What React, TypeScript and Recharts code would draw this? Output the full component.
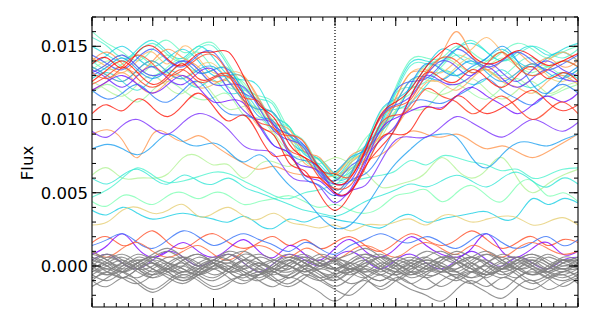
import React from 'react';
import { LineChart, Line, XAxis, YAxis, ReferenceLine } from 'recharts';

// x positions (phase units), 33 samples
const X = [-4, -3.75, -3.5, -3.25, -3, -2.75, -2.5, -2.25, -2, -1.75, -1.5, -1.25, -1, -0.75, -0.5, -0.25, 0, 0.25, 0.5, 0.75, 1, 1.25, 1.5, 1.75, 2, 2.25, 2.5, 2.75, 3, 3.25, 3.5, 3.75, 4];

// tick positions
const X_MINOR = [-4, -3.8, -3.6, -3.4, -3.2, -3, -2.8, -2.6, -2.4, -2.2, -2, -1.8, -1.6, -1.4, -1.2, -1, -0.8, -0.6, -0.4, -0.2, 0, 0.2, 0.4, 0.6, 0.8, 1, 1.2, 1.4, 1.6, 1.8, 2, 2.2, 2.4, 2.6, 2.8, 3, 3.2, 3.4, 3.6, 3.8, 4];
const X_MAJOR = [-4, -3, -2, -1, 0, 1, 2, 3, 4];
// flux in units of 1e-4
const Y_DOMAIN = [-28, 170];
const Y_LABELS = [0, 50, 100, 150];
const Y_MINOR = [-20, -10, 0, 10, 20, 30, 40, 50, 60, 70, 80, 90, 100, 110, 120, 130, 140, 150, 160, 170];
const Y_MAJOR = [0, 50, 100, 150];

// transiting (dipping) light curves, flux x 1e4
const L1 = [138,142,135,146,150,141,137,145,146,146,129,110,101,83,74,67,56,60,79,103,112,121,136,146,152,144,138,141,147,143,137,140,145];
const L2 = [104,110,106,114,108,102,110,118,109,99,103,89,75,75,62,60,50,51,67,87,90,93,108,107,116,110,104,108,114,120,112,106,110];
const L3 = [126,134,140,132,124,130,138,128,129,131,116,96,89,70,65,49,38,49,68,81,94,116,132,128,126,134,128,122,130,136,128,132,126];
const L4 = [132,128,136,144,138,130,134,142,144,131,115,112,94,89,84,66,63,61,80,101,109,114,131,142,140,132,138,146,136,130,134,140,136];
const L5 = [140,146,138,132,140,148,142,136,126,129,129,114,98,93,78,74,63,75,80,93,115,132,133,144,160,144,134,140,146,138,142,136,140];
const L6 = [120,126,132,124,118,126,130,122,124,126,111,95,92,87,70,65,52,62,79,88,95,111,125,125,120,128,134,126,122,118,126,130,124];
const L7 = [136,130,126,134,140,132,128,136,138,126,113,107,104,87,80,65,62,72,77,90,111,127,127,127,136,142,134,128,132,138,130,126,132];
const L8 = [126,120,116,124,130,122,118,126,117,107,109,107,91,79,78,66,64,73,77,87,106,121,120,117,122,128,120,114,120,126,118,122,126];
const L9 = [132,138,144,136,130,136,142,134,124,128,125,109,96,95,78,73,60,70,87,96,105,123,137,135,130,134,140,146,138,132,136,130,134];
const L10 = [118,124,118,112,120,126,120,114,115,117,103,101,89,75,74,62,58,67,71,89,106,107,108,119,124,118,114,122,128,120,116,120,124];
const L11 = [156,150,142,146,152,144,140,148,150,136,121,114,109,89,81,63,59,70,78,94,118,137,138,138,148,154,146,140,144,150,146,142,148];
const L12 = [140,134,138,144,136,132,140,146,134,122,120,114,98,90,72,66,56,66,74,96,118,122,126,136,144,140,134,130,138,142,136,140,136];
const L13 = [138,144,150,142,136,142,148,140,130,130,128,110,104,86,78,72,60,62,82,106,114,122,136,148,144,138,142,148,140,136,142,146,140];
const L14 = [128,132,126,120,128,134,128,122,127,118,118,105,93,90,76,73,63,64,81,102,107,112,123,133,130,124,128,134,126,122,128,132,128];
const L15 = [130,136,142,134,128,134,140,132,134,134,118,102,98,78,72,66,52,62,82,92,104,124,138,134,130,136,142,150,140,124,118,128,136];
const L16 = [144,138,134,142,148,140,136,144,146,132,118,112,96,90,82,66,58,68,76,98,120,126,128,138,148,142,136,140,146,140,134,138,144];
const L17 = [120,114,118,124,116,112,120,126,114,104,103,97,82,77,60,55,48,58,63,76,95,111,113,111,116,122,128,120,114,110,118,124,118];
const L18 = [134,128,122,130,136,128,124,132,134,120,106,100,96,76,68,64,50,52,72,86,96,116,130,126,124,130,136,128,122,128,134,128,126];
const L19 = [92,88,96,100,94,90,98,104,101,93,82,79,76,62,58,54,43,51,55,71,86,88,88,95,102,98,92,88,94,100,96,92,98];
const L20 = [132,138,144,136,130,134,140,134,124,124,122,108,92,86,80,62,56,58,78,102,110,116,130,140,136,130,138,132,126,134,140,134,130];
const L21 = [150,144,140,148,154,146,142,150,142,130,127,122,103,95,77,69,61,72,80,96,120,139,140,140,148,152,146,140,146,150,144,148,152];
const L22 = [160,152,146,140,148,154,146,150,152,138,123,116,111,93,85,67,63,74,82,98,122,141,142,142,150,146,140,146,152,148,142,146,150];
const L23 = [142,136,132,140,146,138,150,142,132,132,130,112,96,90,84,66,58,70,78,90,114,132,134,132,140,148,156,146,138,134,140,146,140];
const L24 = [124,130,136,128,122,128,134,126,128,129,113,98,94,79,74,60,53,55,74,97,103,108,121,116,112,104,110,116,108,100,106,112,104];
const L25 = [136,130,126,134,140,132,128,134,136,126,113,107,104,89,82,67,64,74,79,92,111,127,129,127,134,140,132,126,132,138,132,128,134];
const L26 = [134,140,136,130,138,144,138,132,134,135,119,104,100,95,78,72,61,63,82,105,113,118,133,142,138,132,136,142,136,130,136,140,136];
const L27 = [80,83,80,76,82,90,85,82,84,78,71,76,67,55,46,34,26,28,40,56,70,80,88,90,88,74,67,76,84,84,82,86,90];
const L28 = [120,126,130,124,118,124,130,122,112,113,111,96,82,77,62,58,49,51,70,93,101,106,109,108,116,122,116,110,104,110,116,112,118];

// fainter, mostly flat light curves
const M1 = [90,93,86,74,90,90,85,89,83,76,70,66,68,64,62,60,62,66,72,76,84,92,90,88,90,85,80,82,78,74,78,84,90];
const M2 = [62,67,60,60,60,63,74,75,69,69,60,69,71,68,72,70,74,70,64,54,55,58,64,74,66,60,66,74,60,50,56,62,66];
const M3 = [47,52,60,67,62,57,58,61,64,63,58,53,48,46,50,52,56,58,60,62,65,72,69,75,74,71,69,65,66,60,62,66,67];
const M4 = [44,41,48,46,42,48,50,46,50,48,42,44,46,48,44,40,42,38,36,40,48,50,52,44,50,55,48,44,55,58,48,50,44];
const M5 = [38,35,40,36,32,34,36,34,32,30,34,28,26,32,30,34,32,30,28,26,32,35,30,32,34,36,37,32,34,46,42,46,43];
const M6 = [28,30,38,40,36,38,42,34,36,40,34,32,36,30,28,26,28,24,28,28,30,32,28,34,34,30,32,34,33,28,30,33,28];
const M7 = [60,56,62,66,60,56,62,58,56,60,54,50,46,42,38,36,34,38,44,48,52,56,54,58,62,58,54,60,64,58,54,60,56];
const M8 = [16,20,14,18,24,16,12,18,22,16,12,16,20,14,18,12,16,20,14,10,16,22,18,14,18,24,18,12,16,20,14,18,16];
const M9 = [8,14,22,12,6,10,16,10,6,12,18,10,6,14,8,4,12,18,10,6,12,20,14,8,6,12,22,10,6,12,16,8,10];
const M10 = [14,18,22,16,12,18,24,20,14,18,22,18,14,10,16,12,8,14,18,22,18,16,20,16,12,18,22,16,12,16,20,14,18];
const M11 = [4,8,2,-2,4,10,6,0,4,8,2,-4,2,8,4,0,6,10,4,-2,4,8,2,-2,4,10,4,0,6,2,-2,4,6];
const M12 = [10,6,12,16,10,6,10,14,8,4,10,14,10,6,12,8,4,10,14,10,6,12,16,12,8,14,10,6,12,16,12,8,10];

// background (gray) curves
const G1 = [2,-4,-8,-2,4,0,-6,-2,4,8,2,-4,0,6,2,-4,-10,-4,2,6,0,-6,-2,4,8,2,-4,-8,-2,4,0,-4,2];
const G2 = [-2,4,8,2,-4,2,6,0,-6,-2,4,0,-4,2,-2,-8,-4,2,8,4,-2,2,6,0,-4,2,8,4,-2,-6,0,4,-2];
const G3 = [6,2,-4,0,6,10,4,-2,2,8,4,-2,-6,0,6,2,-2,4,8,2,-4,0,6,10,4,-2,2,8,4,-2,-4,2,6];
const G4 = [-6,-10,-4,2,-2,-8,-12,-6,0,-4,-10,-6,0,4,-2,-8,-14,-8,-2,-6,-10,-4,2,-2,-8,-12,-6,0,-4,-10,-6,-2,-8];
const G5 = [0,6,2,-4,-8,-2,4,8,2,-4,0,6,2,-2,4,0,2,-4,-8,-2,4,0,-4,2,6,0,-6,-2,4,8,2,-2,0];
const G6 = [-10,-14,-8,-12,-18,-12,-6,-10,-16,-12,-6,-10,-14,-8,-12,-18,-24,-16,-10,-14,-8,-12,-16,-10,-6,-12,-18,-22,-14,-10,-16,-12,-8];
const G7 = [4,0,-4,2,6,2,-2,-6,0,4,-2,-6,-2,4,8,2,-2,2,-2,-6,0,4,0,-4,2,6,2,-4,0,4,-2,2,4];
const G8 = [-4,2,6,0,-6,-2,2,-4,-8,-2,4,2,-4,-8,-2,2,-2,-6,0,6,2,-4,-8,-4,2,6,0,-6,-2,2,-4,-8,-4];
const G9 = [8,4,-2,2,8,12,6,0,4,10,6,0,4,8,2,-2,4,8,12,6,0,4,10,6,2,6,10,4,-2,2,8,4,6];
const G10 = [-8,-4,2,-2,-8,-4,0,-6,-10,-4,0,-4,-10,-6,0,-4,-8,-2,-6,-10,-4,2,-2,-6,-10,-4,0,-4,-8,-2,-6,-10,-6];
const G11 = [2,8,4,-2,0,6,2,-4,0,6,10,4,-2,2,6,0,4,-2,0,6,2,-4,0,6,4,-2,-6,0,6,2,-2,4,2];
const G12 = [-2,-6,0,4,-2,-6,-10,-4,2,-2,-6,0,4,0,-6,-10,-6,0,4,-2,-6,-2,4,0,-4,-8,-4,2,-2,-6,-2,4,0];
const G13 = [-14,-8,-4,-10,-16,-10,-4,-8,-14,-10,-6,-2,-8,-12,-6,-10,-16,-20,-12,-6,-10,-16,-20,-24,-16,-10,-14,-8,-12,-16,-10,-6,-12];
const G14 = [6,0,-4,2,6,2,-4,0,4,0,-4,-8,-2,4,0,6,2,-2,4,8,2,-2,2,-2,-6,0,4,-2,2,6,2,-2,2];
const G15 = [0,-6,-2,4,2,-2,4,8,2,-4,-2,2,-4,-6,0,4,-2,-4,2,-2,-6,0,4,2,-4,-8,-2,4,6,0,-4,0,-2];
const G16 = [-4,0,4,-2,-6,0,6,2,-2,0,-6,-10,-4,0,-4,2,6,0,-4,2,-2,-8,-4,0,-2,2,-4,-2,2,-2,-8,-4,-2];
const G17 = [10,4,0,6,2,-4,0,6,2,-2,4,8,4,0,-4,0,4,2,-4,0,6,2,-2,4,10,6,2,-2,4,8,4,0,4];
const G18 = [-6,-2,-8,-12,-6,-2,-8,-4,2,-4,-8,-4,-10,-14,-8,-2,-6,-12,-8,-2,-6,-12,-6,-2,-8,-4,-10,-16,-8,-4,-8,-14,-8];
const G19 = [2,-2,2,8,4,-2,-4,2,6,4,-2,2,-2,-4,2,8,4,-2,0,-4,2,6,2,-4,-2,4,8,2,-2,0,6,2,0];
const G20 = [-2,2,-4,-8,-2,2,-2,-6,-2,2,-4,-6,2,6,2,-4,-6,-2,-6,-10,-4,0,-6,-4,2,-2,-6,-2,4,0,-4,-6,-2];
const G21 = [4,8,2,-2,2,-4,-8,-2,4,2,8,4,-2,-2,4,0,-2,2,6,0,-4,-6,0,6,2,-4,2,6,0,-6,-2,6,4];
const G22 = [-10,-4,-8,-2,2,-4,-10,-6,-2,-8,-12,-6,-4,-8,-2,-6,-10,-4,-8,-16,-10,-4,-8,-14,-8,-4,-8,-2,-6,-12,-8,-4,-6];

const COLORED: [number[], string][] = [
  [M1, '#ff964f'], [M2, '#b3f396'], [M3, '#4df3ce'], [M4, '#80ffb4'], [M5, '#19cee3'], [M6, '#e6ce74'],
  [M7, '#33e6d6'], [M8, '#ff4f28'], [M9, '#8000ff'], [M10, '#3370f8'], [M11, '#7311ff'], [M12, '#ff6a3a'],
  [L27, '#1fa0f0'], [L19, '#7a30fc'],
  [L8, '#b3f396'], [L10, '#9af9a5'], [L14, '#33dfd9'], [L26, '#a0f8a0'], [L9, '#80ffb4'], [L12, '#66f9c1'],
  [L22, '#66f9c1'], [L11, '#4df3ce'], [L21, '#26e0dc'], [L13, '#19cee3'], [L7, '#e6ce74'], [L23, '#ffb462'],
  [L6, '#ffa85a'], [L5, '#ff964f'], [L25, '#1fa8ef'], [L15, '#1996f3'], [L17, '#2b7ef7'], [L16, '#425efa'],
  [L20, '#5a3cfd'], [L18, '#6628fe'], [L28, '#7311ff'], [L4, '#ff4f28'], [L24, '#ff3c1e'], [L2, '#ff1a0d'],
  [L3, '#ff1a0d'], [L1, '#ff0000'],
];
const GRAY = [G1, G2, G3, G4, G5, G6, G7, G8, G9, G10, G11, G12, G13, G14, G15, G16, G17, G18, G19, G20, G21, G22];

const data = X.map((x, i) => {
  const row: Record<string, number> = { x };
  COLORED.forEach(([vals], k) => { row['c' + k] = vals[i]; });
  GRAY.forEach((vals, k) => { row['g' + k] = vals[i]; });
  return row;
});

const FONT = 'DejaVu Sans, Liberation Sans, sans-serif';

const NoLabel = () => <g />;

const FluxLabel = (props: any) => {
  const vb = props.viewBox || {};
  const cx = (vb.x || 0) + 19;
  const cy = (vb.y || 0) + (vb.height || 0) / 2 + 1;
  return (
    <text x={cx} y={cy} transform={`rotate(-90 ${cx} ${cy})`} textAnchor="middle" dominantBaseline="central"
      fontFamily={FONT} fontSize={16.5} fill="#000">Flux</text>
  );
};

const TL = { stroke: '#000', strokeWidth: 1 };
const AL = { stroke: '#000', strokeWidth: 1.1 };

// pairs of (x axis, y axis) that carry the inward tick marks; each gets a hidden copy of one series
const TICK_AXIS_PAIRS: [string, string][] = [['xb', 'yl'], ['xt', 'ylm'], ['xtm', 'yr'], ['x', 'yrm']];

export default function App() {
  const fmt = (v: number) => (v / 10000).toFixed(3);
  const xCommon = { dataKey: 'x', type: 'number' as const, domain: [-4, 4], interval: 0 as const, tick: NoLabel, tickLine: TL, allowDataOverflow: true, mirror: true, height: 1 };
  const yCommon = { type: 'number' as const, domain: Y_DOMAIN, interval: 0 as const, tick: NoLabel, tickLine: TL, allowDataOverflow: true, mirror: true, width: 1 };
  return (
    <div style={{ width: 582, height: 303 }}>
      <LineChart width={582} height={303} data={data} margin={{ top: 9, right: 12, bottom: 4, left: 0 }}>
        <XAxis xAxisId="x" {...xCommon} ticks={X_MINOR} orientation="bottom" tickSize={4} axisLine={AL} />
        <XAxis xAxisId="xb" {...xCommon} ticks={X_MAJOR} orientation="bottom" tickSize={8} axisLine={false} />
        <XAxis xAxisId="xt" {...xCommon} ticks={X_MINOR} orientation="top" tickSize={4} axisLine={AL} />
        <XAxis xAxisId="xtm" {...xCommon} ticks={X_MAJOR} orientation="top" tickSize={8} axisLine={false} />
        <YAxis yAxisId="y" type="number" domain={Y_DOMAIN} ticks={Y_LABELS} interval={0} tickFormatter={fmt}
          width={84} tickLine={false} axisLine={false} tickSize={0} tickMargin={4}
          tick={{ fontSize: 16.5, fill: '#000', fontFamily: FONT }} allowDataOverflow
          label={{ value: 'Flux', content: FluxLabel }} />
        <YAxis yAxisId="yl" {...yCommon} ticks={Y_MINOR} orientation="left" tickSize={4} axisLine={AL} />
        <YAxis yAxisId="ylm" {...yCommon} ticks={Y_MAJOR} orientation="left" tickSize={8} axisLine={false} />
        <YAxis yAxisId="yr" {...yCommon} ticks={Y_MINOR} orientation="right" tickSize={4} axisLine={AL} />
        <YAxis yAxisId="yrm" {...yCommon} ticks={Y_MAJOR} orientation="right" tickSize={8} axisLine={false} />
        {TICK_AXIS_PAIRS.map(([xa, ya]) => (
          <Line key={'h' + xa + ya} xAxisId={xa} yAxisId={ya} dataKey="g0" type="natural" stroke="none"
            dot={false} activeDot={false} isAnimationActive={false} />
        ))}
        {COLORED.map(([, color], k) => (
          <Line key={'c' + k} xAxisId="x" yAxisId="y" dataKey={'c' + k} type="natural" stroke={color}
            strokeOpacity={0.8} strokeWidth={1.1} dot={false} activeDot={false} isAnimationActive={false} />
        ))}
        {GRAY.map((_, k) => (
          <Line key={'g' + k} xAxisId="x" yAxisId="y" dataKey={'g' + k} type="natural" stroke="#808080"
            strokeOpacity={0.85} strokeWidth={1.1} dot={false} activeDot={false} isAnimationActive={false} />
        ))}
        <ReferenceLine xAxisId="x" yAxisId="y" x={0} stroke="#000" strokeWidth={1.2} strokeDasharray="1 2" />
      </LineChart>
    </div>
  );
}
